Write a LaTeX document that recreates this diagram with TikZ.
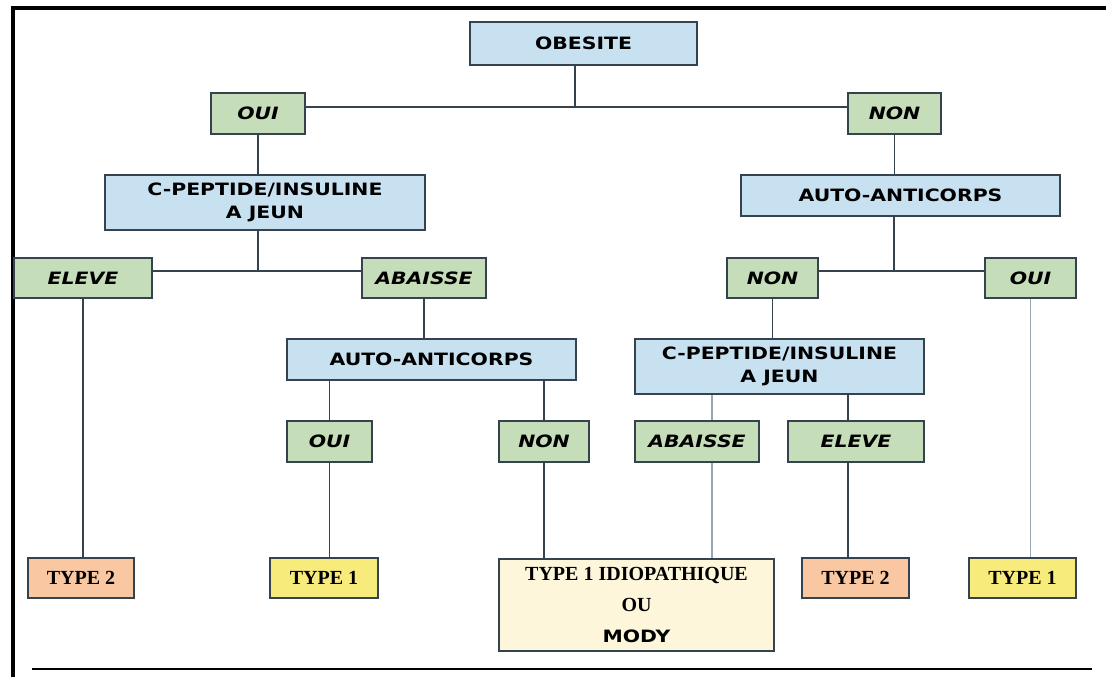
\documentclass[tikz,border=0pt]{standalone}
\usepackage{fontspec}
\setmainfont{Liberation Serif}
\newfontfamily\verd{DejaVu Sans}[FakeStretch=1.2]
\usepackage{tikz}

\definecolor{bleu}{HTML}{C8E1F1}
\definecolor{vert}{HTML}{C6DDB9}
\definecolor{saumon}{HTML}{F9C8A3}
\definecolor{jaune}{HTML}{F7EB7C}
\definecolor{creme}{HTML}{FDF6DA}
\definecolor{trait}{HTML}{34434E}
\definecolor{traitclair}{HTML}{93A8B8}

\begin{document}
\begin{tikzpicture}[x=1pt,y=-1pt,
    boite/.style={draw=trait,line width=1.3pt,inner sep=0pt,align=center},
    question/.style={boite,fill=bleu,font=\verd\bfseries\fontsize{17}{23}\selectfont},
    reponse/.style={boite,fill=vert,font=\verd\bfseries\itshape\fontsize{17}{20}\selectfont,minimum height=41pt},
    resultat/.style={boite,font=\bfseries\fontsize{20}{24}\selectfont,minimum height=40pt},
    lien/.style={draw=trait,line width=1.5pt},
    lienclair/.style={draw=traitclair,line width=1.5pt}]
    \useasboundingbox (0,0) rectangle (1106,677);
    % cadre
    \draw[line width=4pt] (13,677) -- (13,8) -- (1106,8);
    \draw[line width=2.5pt] (32,669) -- (1092,669);

    \node[question,minimum width=227pt,minimum height=43pt] (obesite) at (583.5,43.5) {OBESITE};
    \node[reponse,minimum width=94pt] (oui1) at (258,113.5) {OUI};
    \node[reponse,minimum width=93pt] (non1) at (894.5,113.5) {NON};
    \node[question,minimum width=320pt,minimum height=55pt] (cpep1) at (265,202.5) {C-PEPTIDE/INSULINE\\A JEUN};
    \node[question,minimum width=319pt,minimum height=41pt] (auto1) at (900.5,195.5) {AUTO-ANTICORPS};
    \node[reponse,minimum width=138pt,minimum height=40pt] (eleve1) at (83,278) {ELEVE};
    \node[reponse,minimum width=124pt,minimum height=40pt] (abaisse1) at (424,278) {ABAISSE};
    \node[reponse,minimum width=91pt,minimum height=40pt] (non2) at (772.5,278) {NON};
    \node[reponse,minimum width=91pt,minimum height=40pt] (oui2) at (1030.5,278) {OUI};
    \node[question,minimum width=289pt,minimum height=41pt] (auto2) at (431.5,359.5) {AUTO-ANTICORPS};
    \node[question,minimum width=289pt,minimum height=55pt] (cpep2) at (779.5,366.5) {C-PEPTIDE/INSULINE\\A JEUN};
    \node[reponse,minimum width=85pt] (oui3) at (329.5,441.5) {OUI};
    \node[reponse,minimum width=90pt] (non3) at (544,441.5) {NON};
    \node[reponse,minimum width=124pt] (abaisse2) at (697,441.5) {ABAISSE};
    \node[reponse,minimum width=136pt] (eleve2) at (856,441.5) {ELEVE};
    \node[resultat,fill=saumon,minimum width=106pt] (type2a) at (81,578) {TYPE 2};
    \node[resultat,fill=jaune,minimum width=108pt] (type1a) at (324,578) {TYPE 1};
    \node[resultat,fill=creme,minimum width=275pt,minimum height=92pt,
        font=\bfseries\fontsize{20}{31}\selectfont] (idio) at (636.5,605)
        {TYPE 1 IDIOPATHIQUE\\OU\\{\verd\fontsize{17}{31}\selectfont MODY}};
    \node[resultat,fill=saumon,minimum width=107pt] (type2b) at (855.5,578) {TYPE 2};
    \node[resultat,fill=jaune,minimum width=107pt] (type1b) at (1022.5,578) {TYPE 1};

    % branches
    \coordinate (b1) at ([yshift=6.5pt]oui1.east);
    \draw[lien] (b1) -- (b1 -| non1.west);
    \draw[lien] ([xshift=-8.5pt]obesite.south) coordinate (o1) -- (o1 |- b1);
    \draw[lien] (oui1.south) -- (oui1.south |- cpep1.north);
    \draw[lien] (non1.south) -- (non1.south |- auto1.north);
    \coordinate (b2) at ([yshift=7pt]eleve1.east);
    \draw[lien] (b2) -- (b2 -| abaisse1.west);
    \draw[lien] ([xshift=-7pt]cpep1.south) coordinate (c1) -- (c1 |- b2);
    \coordinate (b3) at ([yshift=7pt]non2.east);
    \draw[lien] (b3) -- (b3 -| oui2.west);
    \draw[lien] ([xshift=-6.5pt]auto1.south) coordinate (a1) -- (a1 |- b3);
    \draw[lien] (abaisse1.south) -- (abaisse1.south |- auto2.north);
    \draw[lien] (non2.south) -- (non2.south |- cpep2.north);
    \draw[lien] (oui3.north) -- (oui3.north |- auto2.south);
    \draw[lien] (non3.north) -- (non3.north |- auto2.south);
    \draw[lienclair] ([xshift=15pt]abaisse2.north) coordinate (a2) -- (a2 |- cpep2.south);
    \draw[lien] ([xshift=-8pt]eleve2.north) coordinate (e2) -- (e2 |- cpep2.south);
    \draw[lien] (eleve1.south) -- (eleve1.south |- type2a.north);
    \draw[lien] (oui3.south) -- (oui3.south |- type1a.north);
    \draw[lien] (non3.south) -- (non3.south |- idio.north);
    \draw[lienclair] ([xshift=15pt]abaisse2.south) coordinate (a3) -- (a3 |- idio.north);
    \draw[lien] ([xshift=-8pt]eleve2.south) coordinate (e3) -- (e3 |- type2b.north);
    \draw[lienclair] (oui2.south) -- (oui2.south |- type1b.north);
\end{tikzpicture}
\end{document}
